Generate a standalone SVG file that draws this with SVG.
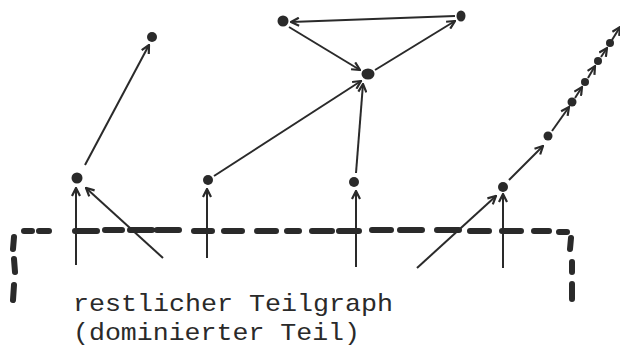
<svg xmlns="http://www.w3.org/2000/svg" width="620" height="349" viewBox="0 0 620 349">
<style>
.e{stroke:#2a2a2a;stroke-width:2;fill:none;marker-end:url(#arr)}
.n{fill:#2a2a2a}
.d{stroke:#2a2a2a;stroke-width:6;stroke-linecap:round;fill:none}
.t{font-family:"Liberation Mono","DejaVu Sans Mono",monospace;font-size:24px;fill:#2a2a2a}
</style>
<defs>
<marker id="arr" viewBox="0 0 10 10" refX="9" refY="5" markerWidth="10" markerHeight="10" markerUnits="userSpaceOnUse" orient="auto">
<path d="M1,1 L9,5 L1,9" stroke="#2a2a2a" stroke-width="2.2" fill="none"/>
</marker>
</defs>
<rect width="620" height="349" fill="#fff"/>
<g id="boundary">
<path class="d" d="M24,231H32M39,231H49M75,231H97M105,230H122M130,230H152M157,230H179M194,231H212M224,231H242M257,231H276M287,231H299M312,231H332M339,231H359M372,230H391M400,230H422M437,230H459M470,231H489M502,231H521M534,231H549M559,232H567"/>
<path class="d" d="M14,237L13,249M14,259L15,272M14,285L13,300"/>
<path class="d" d="M571,238L570,249M572,262L572,272M572,284L572,299"/>
</g>
<g id="connectors">
<line class="e" x1="76" y1="265" x2="76" y2="188"/>
<line class="e" x1="163" y1="258" x2="86" y2="188"/>
<line class="e" x1="207" y1="258" x2="207" y2="189"/>
<line class="e" x1="356" y1="267" x2="356" y2="191"/>
<line class="e" x1="417" y1="268" x2="496" y2="196"/>
<line class="e" x1="503" y1="268" x2="503" y2="194"/>
<line class="e" x1="85" y1="165" x2="149" y2="45"/>
<line class="e" x1="214" y1="176" x2="361" y2="81"/>
<line class="e" x1="356" y1="173" x2="363" y2="84"/>
<line class="e" x1="375" y1="70" x2="455" y2="21"/>
<line class="e" x1="455" y1="16" x2="291" y2="22"/>
<line class="e" x1="289" y1="27" x2="360" y2="70"/>
<line class="e" x1="509" y1="180" x2="543" y2="146"/>
<line class="e" x1="552" y1="131" x2="569" y2="107"/>
<line class="e" x1="575" y1="98" x2="582" y2="87"/>
<line class="e" x1="588" y1="78" x2="595" y2="66"/>
<line class="e" x1="601" y1="57" x2="607" y2="48"/>
<line class="e" x1="612" y1="40" x2="620" y2="27"/>
</g>
<g id="nA"><circle class="n" cx="77" cy="178" r="5.5"/></g>
<g id="nB"><circle class="n" cx="152" cy="37" r="5"/></g>
<g id="nC"><circle class="n" cx="208" cy="180" r="5"/></g>
<g id="nD"><circle class="n" cx="283" cy="21" r="5.5"/></g>
<g id="nE"><ellipse class="n" cx="461" cy="16" rx="4.5" ry="5.5"/></g>
<g id="nF"><ellipse class="n" cx="368" cy="74" rx="6.5" ry="5.5"/></g>
<g id="nG"><circle class="n" cx="354" cy="182" r="5"/></g>
<g id="nH"><circle class="n" cx="503" cy="187" r="5"/></g>
<g id="nI"><circle class="n" cx="548" cy="136" r="4.5"/></g>
<g id="nJ"><circle class="n" cx="572" cy="102" r="4.5"/></g>
<g id="nK"><circle class="n" cx="585" cy="82" r="4"/></g>
<g id="nL"><circle class="n" cx="598" cy="61" r="4"/></g>
<g id="nM"><circle class="n" cx="610" cy="43" r="4"/></g>
<g id="label">
<text class="t" x="73" y="311" textLength="320" lengthAdjust="spacingAndGlyphs">restlicher Teilgraph</text>
<text class="t" x="73" y="340" textLength="287" lengthAdjust="spacingAndGlyphs">(dominierter Teil)</text>
</g>
</svg>
